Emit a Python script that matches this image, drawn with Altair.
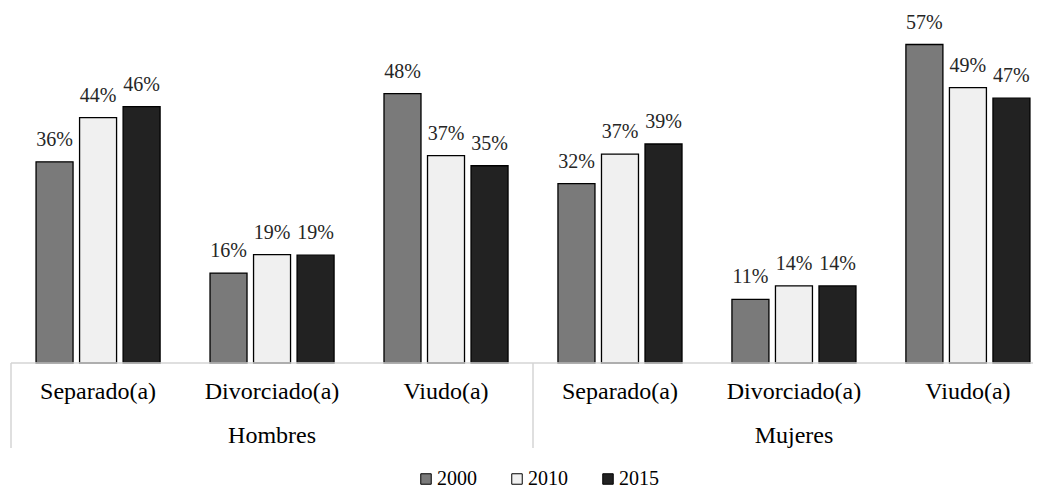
import altair as alt
import pandas as pd

# ---- data ----
sexos = ["Hombres", "Hombres", "Hombres", "Mujeres", "Mujeres", "Mujeres"]
estados = ["Separado(a)", "Divorciado(a)", "Viudo(a)", "Separado(a)", "Divorciado(a)", "Viudo(a)"]
anios = ["2000", "2010", "2015"]
v2000 = [36.0, 16.1, 48.2, 32.1, 11.4, 57.0]
v2010 = [43.9, 19.4, 37.1, 37.4, 13.8, 49.3]
v2015 = [45.9, 19.3, 35.3, 39.2, 13.8, 47.4]
colores = ["#7a7a7a", "#f0f0f0", "#222222"]

grupos = [f"{s}|{e}" for s, e in zip(sexos, estados)]
rows = []
for anio, vals in zip(anios, [v2000, v2010, v2015]):
    for g, v in zip(grupos, vals):
        rows.append({"grupo": g, "anio": anio, "valor": v, "etiqueta": f"{round(v)}%"})
df = pd.DataFrame(rows)

cats = pd.DataFrame({"grupo": grupos, "estado": estados, "sexo": sexos})
sex_df = cats[cats["estado"] == "Divorciado(a)"]

FONT = "Liberation Serif"
W, H = 1022, 352

xenc = alt.X("grupo:N", sort=grupos, axis=None,
             scale=alt.Scale(range=[0, 1044], paddingInner=0.287, paddingOuter=0.144))
xoff = alt.XOffset("anio:N", sort=anios, scale=alt.Scale(paddingInner=0.15, paddingOuter=0))
yenc = alt.Y("valor:Q", axis=None, scale=alt.Scale(domain=[0, 63]))

bars = alt.Chart(df).mark_bar(stroke="black", strokeWidth=1.3).encode(
    x=xenc, xOffset=xoff, y=yenc,
    color=alt.Color("anio:N", sort=anios,
                    scale=alt.Scale(domain=anios, range=colores),
                    legend=alt.Legend(orient="none", legendX=405, legendY=458,
                                      direction="horizontal", title=None,
                                      symbolType="square", symbolSize=110,
                                      symbolStrokeColor="black", symbolStrokeWidth=1,
                                      labelFont=FONT, labelFontSize=20, labelColor="#000000",
                                      columnPadding=30, labelOffset=1)),
)

labels = alt.Chart(df).mark_text(dy=-16, baseline="alphabetic", font=FONT,
                                 fontSize=20, color="#262626").encode(
    x=xenc, xOffset=xoff, y=yenc, text="etiqueta:N"
)

cat_text = alt.Chart(cats).mark_text(baseline="middle", font=FONT, fontSize=24,
                                     color="#000000").encode(
    x=xenc, y=alt.value(H + 29), text="estado:N"
)

sex_text = alt.Chart(sex_df).mark_text(baseline="middle", font=FONT, fontSize=24,
                                       color="#000000").encode(
    x=xenc, y=alt.value(H + 73), text="sexo:N"
)

one = pd.DataFrame({"a": [0]})
hline = alt.Chart(one).mark_rule(color="#d4d4d4", strokeWidth=1.5).encode(
    x=alt.value(0), x2=alt.value(1044), y=alt.value(H)
)
vline1 = alt.Chart(one).mark_rule(color="#d4d4d4", strokeWidth=1.5).encode(
    x=alt.value(0), y=alt.value(H), y2=alt.value(H + 85)
)
vline2 = alt.Chart(one).mark_rule(color="#d4d4d4", strokeWidth=1.5).encode(
    x=alt.value(522), y=alt.value(H), y2=alt.value(H + 85)
)

chart = alt.layer(bars, labels, cat_text, sex_text, hline, vline1, vline2).properties(
    width=W, height=H,
    autosize=alt.AutoSizeParams(type="none"),
    padding={"left": 3, "top": 3, "right": 0, "bottom": 128},
).configure_view(stroke=None)

chart.save("out.html", embed_options={"renderer": "svg", "actions": False})
